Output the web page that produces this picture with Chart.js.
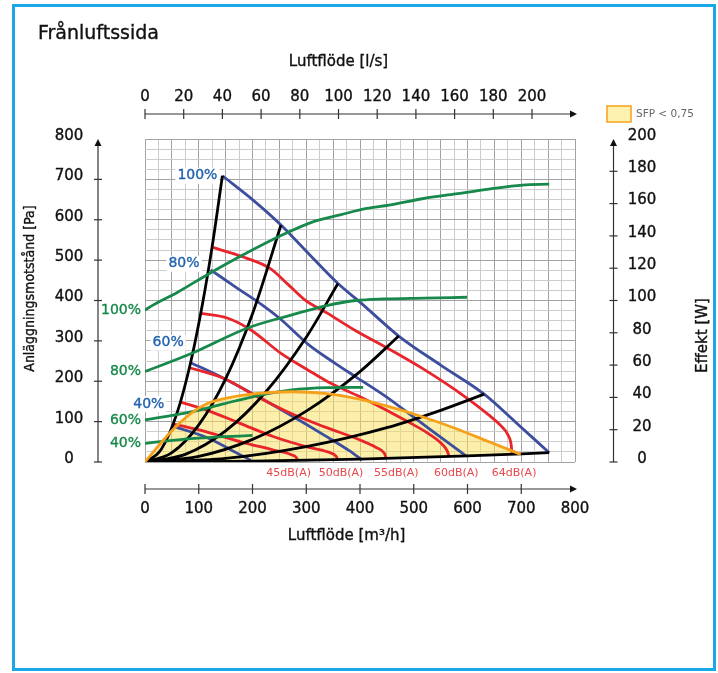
<!DOCTYPE html>
<html>
<head>
<meta charset="utf-8">
<script src="https://cdn.jsdelivr.net/npm/chart.js@4.4.1/dist/chart.umd.min.js"></script>
<style>
    body { margin: 0; background: #fff; }
    #ram { width: 718px; height: 673px; }
</style>
</head>
<body>
<div id="ram"><canvas id="diagram" width="718" height="673"></canvas></div>
<script>
// skalor (tick labels)
var flodeLs = [0, 20, 40, 60, 80, 100, 120, 140, 160, 180, 200];
var flodeM3h = [0, 100, 200, 300, 400, 500, 600, 700, 800];
var tryckPa = [0, 100, 200, 300, 400, 500, 600, 700, 800];
var effektW = [0, 20, 40, 60, 80, 100, 120, 140, 160, 180, 200];

// fläktkurvor [m3/h, Pa]
var flakt100 = [[144, 709], [200, 650], [253, 587], [300, 522], [359, 442], [400, 396], [472, 312], [550, 240], [631, 168], [690, 98], [752, 23]];
var flakt80 = [[122, 476], [170, 432], [219, 388], [253, 353], [303, 292], [353, 245], [392, 211], [445, 165], [516, 95], [560, 52], [597, 15]];
var flakt60 = [[85, 246], [147, 207], [210, 162], [272, 115], [334, 66], [380, 28], [404, 5]];
var flakt40 = [[51, 89], [116, 60], [160, 30], [197, 4]];
var flaktEtiketter = ['100%', '80%', '60%', '40%'];

// systemkurvor [m3/h, Pa]
var system1 = [[0, 0], [30, 31], [60, 123], [85, 247], [107, 392], [125, 534], [144, 709]];
var system2 = [[0, 0], [50, 23], [100, 92], [150, 206], [200, 367], [253, 587]];
var system3 = [[0, 0], [75, 19], [150, 77], [225, 174], [300, 309], [359, 442]];
var system4 = [[0, 0], [100, 14], [200, 56], [300, 126], [400, 224], [472, 312]];
var system5 = [[0, 0], [150, 9], [300, 38], [450, 85], [550, 128], [631, 168]];
var system6 = [[0, 0], [200, 2], [400, 7], [600, 15], [752, 23]];

// ljudnivåer [m3/h, Pa]
var ljud45 = [[54, 94], [116, 74], [178, 50], [241, 29], [272, 18], [282, 10], [284, 3]];
var ljud50 = [[65, 149], [116, 128], [178, 95], [241, 62], [303, 37], [340, 25], [355, 15], [359, 5]];
var ljud55 = [[82, 234], [147, 207], [210, 161], [272, 120], [334, 87], [401, 54], [430, 36], [445, 22], [449, 9]];
var ljud60 = [[104, 368], [154, 356], [197, 327], [253, 269], [303, 228], [340, 199], [401, 161], [454, 125], [500, 92], [530, 68], [552, 45], [562, 28], [566, 13]];
var ljud64 = [[124, 532], [184, 507], [232, 480], [266, 440], [296, 403], [340, 368], [392, 325], [454, 280], [516, 232], [578, 178], [640, 116], [662, 90], [675, 68], [681, 45], [683, 19]];
var ljudEtiketter = ['45dB(A)', '50dB(A)', '55dB(A)', '60dB(A)', '64dB(A)'];

// effekt [m3/h, W]
var effekt100 = [[0, 94], [14, 97], [60, 105], [116, 116], [181, 128], [258, 141], [315, 149], [363, 153], [412, 157], [454, 159], [516, 163], [578, 166], [640, 169], [702, 171.5], [752, 172]];
var effekt80 = [[0, 56], [85, 67], [191, 83], [272, 91], [340, 97], [392, 100], [443, 101], [520, 101.5], [599, 102]];
var effekt60 = [[0, 26], [85, 31], [146, 36], [208, 41], [270, 44.5], [340, 46], [406, 46.2]];
var effekt40 = [[0, 11.5], [85, 14.5], [200, 16.5]];

// SFP < 0,75 gräns [m3/h, Pa]
var sfpGrans = [[0, 0], [23, 37], [54, 83], [85, 120], [116, 145], [154, 159], [210, 170], [272, 174], [334, 170], [401, 155], [454, 137], [516, 112], [578, 83], [640, 50], [699, 19]];

var BLA = '#3d4e9e', ROD = '#e8252b', GRON = '#17894a', ORANGE = '#f6a11b';

function kurva(punkter, farg, axel, ordning) {
    return {
        data: punkter.map(function (p) { return { x: p[0], y: p[1] }; }),
        borderColor: farg,
        backgroundColor: farg,
        borderWidth: 2.8,
        pointRadius: 0,
        fill: false,
        cubicInterpolationMode: 'monotone',
        yAxisID: axel,
        order: ordning
    };
}

var flaktar = [flakt100, flakt80, flakt60, flakt40];
var system = [system1, system2, system3, system4, system5, system6];
var ljud = [ljud45, ljud50, ljud55, ljud60, ljud64];
var effekter = [effekt100, effekt80, effekt60, effekt40];

var datasets = [];
system.forEach(function (k) { datasets.push(kurva(k, '#000', 'y', 3)); });
var index6 = datasets.length - 1;
flaktar.forEach(function (k) { datasets.push(kurva(k, BLA, 'y', 5)); });
ljud.forEach(function (k) { datasets.push(kurva(k, ROD, 'y', 4)); });
effekter.forEach(function (k) { datasets.push(kurva(k, GRON, 'yW', 2)); });
datasets.push(kurva(sfpGrans, ORANGE, 'y', 1));
var yta = kurva(sfpGrans, 'rgba(0,0,0,0)', 'y', 9);
yta.borderWidth = 0;
yta.backgroundColor = 'rgba(250,224,90,0.5)';
yta.fill = { target: index6 };
datasets.push(yta);

var FONT = '"DejaVu Sans", sans-serif';

function pil(c, x, y, riktning) {
    c.beginPath();
    if (riktning == 'hoger') {
        c.moveTo(x, y); c.lineTo(x - 7, y - 3.5); c.lineTo(x - 7, y + 3.5);
    } else {
        c.moveTo(x, y); c.lineTo(x - 3.5, y + 7); c.lineTo(x + 3.5, y + 7);
    }
    c.closePath();
    c.fill();
}

function linje(c, x1, y1, x2, y2) {
    c.beginPath(); c.moveTo(x1, y1); c.lineTo(x2, y2); c.stroke();
}

function text(c, txt, x, y) { // lite fetare text
    c.fillText(txt, x, y);
    c.save();
    c.strokeStyle = c.fillStyle;
    c.lineWidth = 0.35;
    c.strokeText(txt, x, y);
    c.restore();
}

function etikett(c, txt, x, y, farg) { // högerjusterad text med vit bakgrund
    var w = c.measureText(txt).width;
    c.fillStyle = '#fff';
    c.fillRect(x - w - 2, y - 8, w + 4, 16);
    c.fillStyle = farg;
    c.textAlign = 'right';
    text(c, txt, x, y);
}

var axlar = {
    id: 'axlar',
    afterDraw: function (chart) {
        var c = chart.ctx, a = chart.chartArea, s = chart.scales;
        c.save();
        c.textBaseline = 'middle';

        // ram
        c.strokeStyle = '#1aa9e6';
        c.lineWidth = 3;
        c.strokeRect(13.5, 5.5, 701, 664);

        c.fillStyle = '#111';
        c.font = '19px ' + FONT;
        c.textAlign = 'left';
        text(c, 'Frånluftssida', 38, 34);

        c.strokeStyle = '#333';
        c.lineWidth = 1.2;
        c.font = '15px ' + FONT;
        c.textAlign = 'center';

        // övre axel l/s
        var ty = a.top - 25;
        var xs = s.x.getPixelForValue(0), xe = s.x.getPixelForValue(800) + 2;
        linje(c, xs, ty, xe - 4, ty);
        pil(c, xe, ty, 'hoger');
        flodeLs.forEach(function (v) {
            var px = s.xTop.getPixelForValue(v);
            linje(c, px, ty - 5, px, ty + 5);
            text(c, String(v), px, ty - 17);
        });
        text(c, 'Luftflöde [l/s]', s.xTop.getPixelForValue(100), ty - 52);

        // undre axel m3/h
        var by = a.bottom + 27;
        linje(c, xs, by, xe - 4, by);
        pil(c, xe, by, 'hoger');
        flodeM3h.forEach(function (v) {
            var px = s.x.getPixelForValue(v);
            if (v < 800) linje(c, px, by - 5, px, by + 5);
            text(c, String(v), px, by + 20);
        });
        text(c, 'Luftflöde [m³/h]', s.x.getPixelForValue(375), by + 47);

        // vänster axel Pa
        var lx = a.left - 47;
        var y0 = s.y.getPixelForValue(0), y1 = s.y.getPixelForValue(800);
        linje(c, lx, y0, lx, y1 + 4);
        pil(c, lx, y1, 'upp');
        tryckPa.forEach(function (v) {
            var py = s.y.getPixelForValue(v);
            if (v < 800) linje(c, lx - 4, py, lx + 4, py);
            text(c, String(v), lx - 29, py - 3);
        });
        c.save();
        c.translate(30, (a.top + a.bottom) / 2 - 12);
        c.rotate(-Math.PI / 2);
        c.font = '14px "DejaVu Sans Condensed", ' + FONT;
        text(c, 'Anläggningsmotstånd [Pa]', 0, 0);
        c.restore();

        // höger axel W
        var rx = a.right + 38.5;
        linje(c, rx, s.yW.getPixelForValue(0), rx, s.yW.getPixelForValue(200) + 4);
        pil(c, rx, s.yW.getPixelForValue(200), 'upp');
        effektW.forEach(function (v) {
            var py = s.yW.getPixelForValue(v);
            if (v < 200) linje(c, rx - 4, py, rx + 4, py);
            text(c, String(v), rx + 28.5, py - 3);
        });
        c.save();
        c.translate(703, (a.top + a.bottom) / 2 + 35);
        c.rotate(-Math.PI / 2);
        text(c, 'Effekt [W]', 0, 0);
        c.restore();

        // förklaring
        c.fillStyle = '#fdf2b0';
        c.fillRect(607, 106, 24, 16);
        c.strokeStyle = ORANGE;
        c.lineWidth = 1.5;
        c.strokeRect(607, 106, 24, 16);
        c.fillStyle = '#666';
        c.font = '10.5px ' + FONT;
        c.textAlign = 'left';
        c.fillText('SFP < 0,75', 636, 114);

        // procentetiketter fläkt
        c.font = '14px ' + FONT;
        var forskjut = [[5, 0], [11, -6], [7, -20], [8, -22]];
        flaktar.forEach(function (k, i) {
            var px = s.x.getPixelForValue(k[0][0]), py = s.y.getPixelForValue(k[0][1]);
            etikett(c, flaktEtiketter[i], px - forskjut[i][0], py + forskjut[i][1], '#2262ae');
        });
        // procentetiketter effekt
        effekter.forEach(function (k, i) {
            var py = s.yW.getPixelForValue(k[0][1]);
            etikett(c, flaktEtiketter[i], a.left - 4, py, GRON);
        });
        // ljudetiketter, under kurvornas slut
        c.font = '11px ' + FONT;
        c.fillStyle = '#e8474c';
        c.textAlign = 'center';
        var ljudForskjut = [-9, 3, 10, 7, 2];
        ljud.forEach(function (k, i) {
            c.fillText(ljudEtiketter[i], s.x.getPixelForValue(k[k.length - 1][0]) + ljudForskjut[i], a.bottom + 11);
        });
        c.restore();
    }
};

var rutnat = function (steg) {
    return function (ctx) {
        if (!ctx.tick) return '#ccc';
        return ctx.tick.value % steg === 0 ? '#a2a2a2' : '#cdcdcd';
    };
};

var graf = new Chart(document.getElementById('diagram'), {
    type: 'line',
    data: { datasets: datasets },
    options: {
        responsive: false,
        animation: false,
        devicePixelRatio: 1,
        layout: { padding: { left: 145, right: 143, top: 139, bottom: 211 } },
        scales: {
            x: {
                type: 'linear', min: 0, max: 800,
                ticks: { stepSize: 25, display: false, autoSkip: false },
                grid: { color: rutnat(50), drawTicks: false },
                border: { display: false }
            },
            y: {
                type: 'linear', min: 0, max: 800,
                ticks: { stepSize: 25, display: false, autoSkip: false },
                grid: { color: rutnat(100), drawTicks: false },
                border: { display: false }
            },
            xTop: { type: 'linear', position: 'top', display: false, min: 0, max: 800 / 3.6 },
            yW: { type: 'linear', position: 'right', display: false, min: 0, max: 200 }
        },
        plugins: {
            legend: { display: false },
            tooltip: { enabled: false },
            filler: { propagate: false, drawTime: 'beforeDatasetsDraw' }
        }
    },
    plugins: [axlar]
});
</script>
</body>
</html>
